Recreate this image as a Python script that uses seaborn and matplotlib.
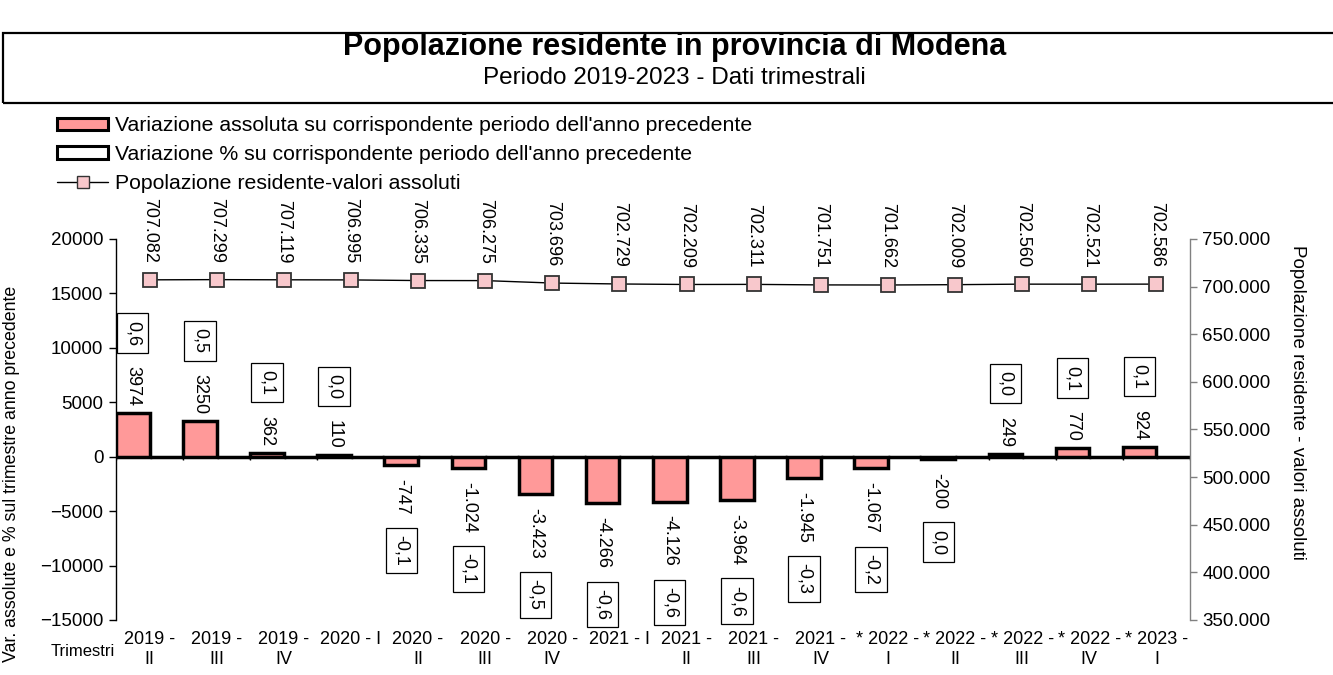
import numpy as np
import pandas as pd
import matplotlib
matplotlib.use('Agg')
import matplotlib.pyplot as plt
import matplotlib.ticker as mticker
from matplotlib.patches import Patch, Rectangle
from matplotlib.lines import Line2D
import seaborn as sns

# quarters (asterisk = provisional data)
trimestri = ["2019 -\nII", "2019 -\nIII", "2019 -\nIV", "2020 - I", "2020 -\nII", "2020 -\nIII",
             "2020 -\nIV", "2021 - I", "2021 -\nII", "2021 -\nIII", "2021 -\nIV", "* 2022 -\nI",
             "* 2022 -\nII", "* 2022 -\nIII", "* 2022 -\nIV", "* 2023 -\nI"]
var_assoluta = [3974, 3250, 362, 110, -747, -1024, -3423, -4266, -4126, -3964, -1945, -1067, -200, 249, 770, 924]
var_perc = [0.6, 0.5, 0.1, 0.0, -0.1, -0.1, -0.5, -0.6, -0.6, -0.6, -0.3, -0.2, 0.0, 0.0, 0.1, 0.1]
popolazione = [707082, 707299, 707119, 706995, 706335, 706275, 703696, 702729, 702209, 702311,
               701751, 701662, 702009, 702560, 702521, 702586]

sns.set_theme(style='white', rc={'text.color': 'black', 'axes.labelcolor': 'black',
                                 'xtick.color': 'black', 'ytick.color': 'black'})
plt.rcParams['font.family'] = ['Liberation Sans', 'DejaVu Sans']

PINK = '#FF9999'
MARKER = '#F8C8CC'
FS_LAB = 13

fig = plt.figure(figsize=(13.33, 6.75), dpi=100)
ax = fig.add_axes([0.087, 0.0815, 0.8057, 0.5645])

df = pd.DataFrame({
    'trimestre': trimestri * 2,
    'serie': ['ass'] * len(trimestri) + ['perc'] * len(trimestri),
    'valore': var_assoluta + var_perc,
})
sns.barplot(data=df, x='trimestre', y='valore', hue='serie', order=trimestri,
            palette={'ass': PINK, 'perc': 'white'}, saturation=1, width=1.0,
            edgecolor='black', linewidth=2.5, errorbar=None, legend=False, ax=ax)

n = len(trimestri)
ax.set_xlim(-0.5, n - 0.5)
ax.set_ylim(-15000, 20000)
ax.set_yticks(range(-15000, 20001, 5000))
ax.set_xlabel('')
ax.set_ylabel('')
ax.tick_params(axis='x', length=0, pad=8, labelsize=13)
for t in ax.get_xticklabels():
    t.set_linespacing(1.25)
ax.tick_params(axis='y', length=5, width=1, color='black', left=True, labelsize=13.5, pad=4)
for s in ['top', 'right', 'bottom']:
    ax.spines[s].set_visible(False)
ax.spines['left'].set_color('black')
ax.spines['left'].set_linewidth(1)
# small category ticks on the zero line
ax.vlines(np.arange(n + 1) - 0.5, -350, 0, color='black', lw=1)

# labels on the bars: absolute value, then boxed % value beyond it
for i, (v, p) in enumerate(zip(var_assoluta, var_perc)):
    txt = str(v) if v >= 0 else f'{v:,}'.replace(',', '.')
    up = v >= 0
    lab = ax.annotate(txt, xy=(i - 0.25, v), xytext=(0, 5 if up else -10), textcoords='offset points',
                      rotation=270, ha='center', va='bottom' if up else 'top', fontsize=FS_LAB)
    ax.annotate(f'{p:.1f}'.replace('.', ','), xy=(0.5, 1 if up else 0), xycoords=lab,
                xytext=(0, 15 if up else -15), textcoords='offset points',
                rotation=270, ha='center', va='bottom' if up else 'top', fontsize=FS_LAB,
                bbox=dict(boxstyle='square,pad=0.4', fc='white', ec='black', lw=0.9))

ax2 = ax.twinx()
sns.lineplot(x=np.arange(n), y=popolazione, ax=ax2, color='black', lw=1, marker='s', markersize=9.5,
             markerfacecolor=MARKER, markeredgecolor='#333333', markeredgewidth=1.3)
ax2.set_ylim(350000, 750000)
ax2.set_yticks(range(350000, 750001, 50000))
ax2.yaxis.set_major_formatter(mticker.FuncFormatter(lambda v, p: f'{int(v):,}'.replace(',', '.')))
ax2.tick_params(axis='y', length=5, width=1, color='#808080', right=True, labelsize=13.5, pad=4)
for s in ['top', 'left', 'bottom']:
    ax2.spines[s].set_visible(False)
ax2.spines['right'].set_color('#808080')
ax2.spines['right'].set_linewidth(1)
ax2.set_xlim(-0.5, n - 0.5)
for i, v in enumerate(popolazione):
    ax2.annotate(f'{v:,}'.replace(',', '.'), xy=(i, v), xytext=(0, 12), textcoords='offset points',
                 rotation=270, ha='center', va='bottom', fontsize=FS_LAB)

# title box
fig.add_artist(Rectangle((0.0023, 0.847), 1.0, 0.104, transform=fig.transFigure,
                         fill=False, ec='black', lw=1.6))
fig.text(0.506, 0.931, 'Popolazione residente in provincia di Modena', ha='center', va='center',
         fontsize=22, fontweight='bold')
fig.text(0.506, 0.884, 'Periodo 2019-2023 - Dati trimestrali', ha='center', va='center', fontsize=17.5)

# axis titles
fig.text(0.009, 0.577, 'Var. assolute e % sul trimestre anno precedente', rotation=90,
         ha='center', va='top', fontsize=12.8)
fig.text(0.973, 0.637, 'Popolazione residente - valori assoluti', rotation=270,
         ha='center', va='top', fontsize=13.5)
fig.text(0.062, 0.035, 'Trimestri', ha='center', va='center', fontsize=12)

handles = [
    Patch(fc=PINK, ec='black', lw=2.2),
    Patch(fc='white', ec='black', lw=2.2),
    Line2D([], [], color='black', lw=1, marker='s', markersize=8,
           markerfacecolor=MARKER, markeredgecolor='#333333'),
]
labels = ["Variazione assoluta su corrispondente periodo dell'anno precedente",
          "Variazione % su corrispondente periodo dell'anno precedente",
          "Popolazione residente-valori assoluti"]
fig.legend(handles, labels, loc='upper left', bbox_to_anchor=(0.043, 0.828), frameon=False,
           fontsize=15.3, borderaxespad=0, borderpad=0, handlelength=2.4, handleheight=0.5,
           handletextpad=0.3, labelspacing=0.47)

fig.savefig('out.png', dpi=100)
